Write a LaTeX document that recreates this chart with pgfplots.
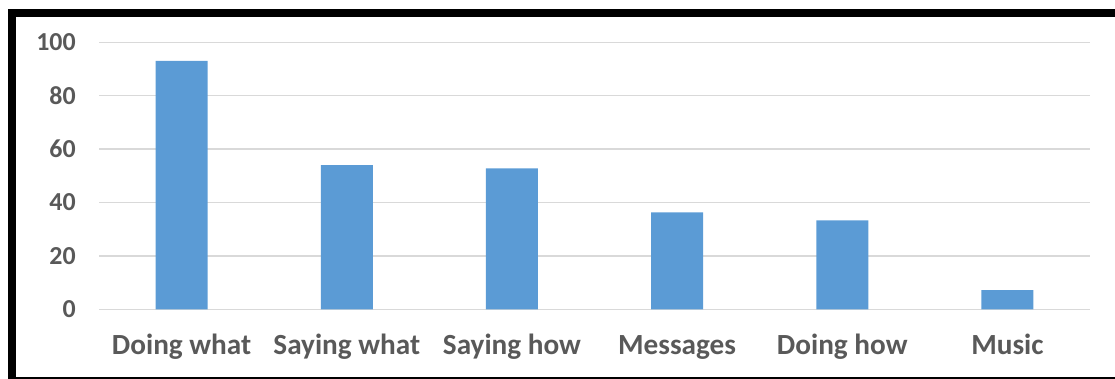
\documentclass[border=0pt]{standalone}
\usepackage{fontspec}
\setmainfont{Carlito}
\usepackage{pgfplots}
\pgfplotsset{compat=1.18}
\definecolor{barblue}{HTML}{5B9BD5}
\definecolor{txtgray}{HTML}{595959}
\definecolor{gridgray}{HTML}{D9D9D9}
\begin{document}
\begin{tikzpicture}
\useasboundingbox (0,0) rectangle (836.25bp,-284.25bp);
\fill[black] (6bp,-6.75bp) rectangle (12bp,-283.5bp);
\fill[black] (6bp,-6.75bp) rectangle (836.25bp,-12.75bp);
\fill[black] (6bp,-282.4bp) rectangle (836.25bp,-284.25bp);
\begin{axis}[
  at={(74.25bp,-231.975bp)}, anchor=south west,
  scale only axis, width=743.25bp, height=200.25bp,
  xmin=-0.5, xmax=5.5, ymin=0, ymax=100,
  ytick={0,20,40,60,80,100},
  xtick=data,
  xticklabels={Doing what,Saying what,Saying how,Messages,Doing how,Music},
  axis line style={draw=none},
  major tick length=0pt,
  ymajorgrids, grid style={gridgray, line width=1.1bp},
  /pgf/number format/assume math mode=true,
  yticklabel style={font=\fontsize{19.5}{21}\selectfont\bfseries, text=txtgray, xshift=-14bp},
  xticklabel style={font=\fontsize{22}{24}\selectfont\bfseries, text=txtgray, anchor=base, yshift=-34bp},
  ybar, bar width=39bp,
]
\addplot[fill=barblue, draw=none] coordinates {(0,93) (1,54) (2,52.8) (3,36.3) (4,33.3) (5,7.2)};
\end{axis}
\end{tikzpicture}
\end{document}
